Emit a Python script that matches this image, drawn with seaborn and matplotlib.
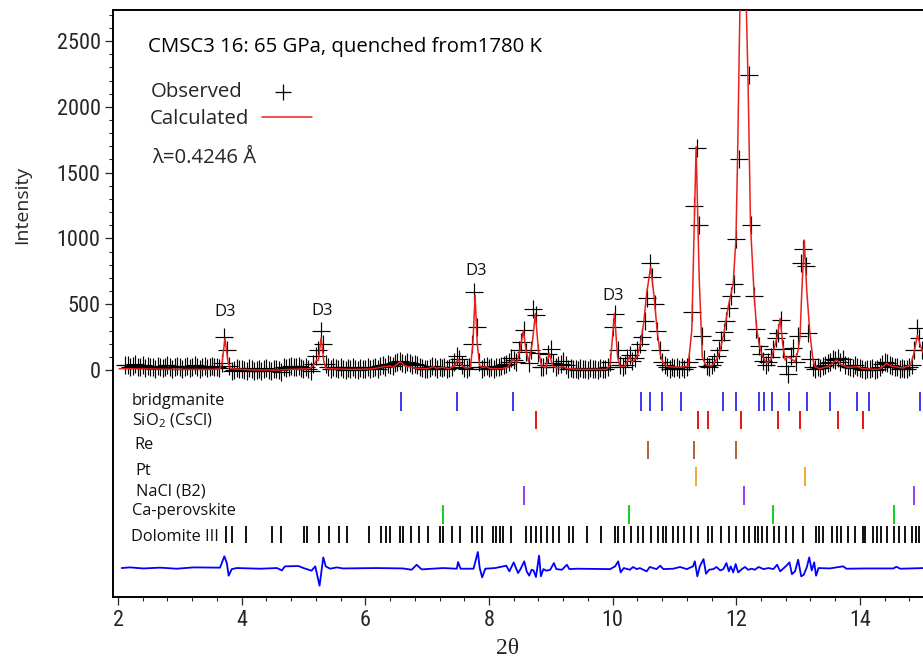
import numpy as np
import pandas as pd
import matplotlib
matplotlib.use("Agg")
import matplotlib.pyplot as plt
import seaborn as sns
from matplotlib.lines import Line2D
from matplotlib.ticker import FixedLocator
from matplotlib import font_manager

# ---------------- data ----------------
obs_start = 2.12          # first observed 2theta
obs_step = 0.04           # 2theta sampling step of the observed points
obs_y = [
    35, 40, 20, 30, 45, 25, 20, 35, 15, 30, 25, 20, 10, 30, 25, 15, 20, 35, 25, 10, 20, 30,
    20, 10, 25, 30, 15, 20, 35, 20, 10, 25, 30, 15, 20, 30, 25, 20, 15, 50, 250, 155, 30, -10, 0, 15, 5,
    10, 0, -5, 15, 5, -10, 0, 10, -5, 5, 15, 0, -10, 5, 10, 0, -15, 20, 15, 25, 30, 20, 25, 30, 15,
    10, 20, 5, -5, 45, 105, 150, 295, 195, 45, 20, 10, 25, 15, 5, 20, 10, 0, 15, 5, 20, 10, 0, 15, 10,
    10, 20, 5, 15, 25, 10, 30, 35, 25, 45, 40, 30, 50, 60, 70, 55, 45, 60, 50, 35, 45, 40, 20, 15, 10,
    5, 15, 30, 20, 10, 25, 15, 20, 5, 15, 20, 60, 110, 80, 40, 15, 10, 20, 195, 590, 325, 60, 10, 25, 30,
    15, 20, 10, 25, 20, 30, 40, 45, 60, 95, 75, 60, 150, 215, 305, 140, 50, 150, 465, 420, 130, 20, 25, 40, 125,
    160, 55, 20, 35, 45, 70, 40, 10, 15, 5, 10, 0, 15, 5, 10, 0, 15, 5, 10, 0, 15, 5, 10, 20, 60,
    330, 425, 150, 40, 20, 40, 95, 115, 65, 95, 150, 200, 250, 370, 550, 815, 710, 500, 295, 150, 60, 35, 20, 10, 25,
    15, 20, 5, 25, 10, 20, 60, 440, 1250, 1690, 1100, 260, 80, 30, 25, 35, 60, 110, 150, 230, 290, 370, 470, 560, 650,
    995, 1600, 3300, 4200, 3200, 2240, 1100, 560, 310, 180, 120, 70, 40, 60, 100, 160, 240, 280, 380, 160, 30, -30, 110, 165, 60,
    255, 815, 920, 790, 285, 80, 20, 10, 25, 15, 30, 40, 55, 60, 85, 75, 90, 60, 85, 40, 30, 20, 15, 35, 25,
    15, 10, 0, 10, 5, 15, 0, 10, 20, 45, 60, 50, 35, 30, 25, 20, 10, 15, 5, 10, 20, 40, 150, 320, 240,
    150,
]

calc_x = [2.02, 2.5, 3.0, 3.5, 3.64, 3.68, 3.73, 3.78, 3.82, 4.2,
          4.6, 4.8, 5.1, 5.17, 5.21, 5.24, 5.285, 5.33, 5.37, 5.8,
          6.1, 6.3, 6.4, 6.45, 6.56, 6.65, 6.8, 7.0, 7.1, 7.15,
          7.25, 7.35, 7.44, 7.50, 7.57, 7.62, 7.70, 7.74, 7.775, 7.81,
          7.85, 7.90, 7.96, 8.02, 8.2, 8.3, 8.38, 8.45, 8.50, 8.555,
          8.60, 8.64, 8.70, 8.75, 8.80, 8.85, 8.92, 8.976, 9.03, 9.1,
          9.2, 9.26, 9.5, 9.9, 9.96, 10.03, 10.08, 10.12, 10.2, 10.27,
          10.30, 10.33, 10.40, 10.45, 10.50, 10.55, 10.615, 10.67, 10.72, 10.77,
          10.82, 10.90, 11.1, 11.22, 11.28, 11.35, 11.40, 11.45, 11.50, 11.6,
          11.68, 11.74, 11.80, 11.87, 11.95, 11.995, 12.02, 12.06, 12.10, 12.15,
          12.19, 12.23, 12.29, 12.33, 12.38, 12.43, 12.49, 12.56, 12.62, 12.66,
          12.71, 12.75, 12.79, 12.83, 12.87, 12.95, 13.00, 13.03, 13.06, 13.10,
          13.14, 13.19, 13.24, 13.27, 13.35, 13.5, 13.62, 13.7, 13.8, 13.95,
          14.05, 14.3, 14.38, 14.43, 14.5, 14.7, 14.82, 14.87, 14.93, 14.98,
          15.05]
calc_y = [10, 8, 5, 5, 8, 40, 240, 60, 10, 0,
          0, 5, 10, 40, 76, 70, 245, 60, 10, 5,
          8, 25, 30, 20, 63, 30, 15, 10, 25, 15,
          20, 10, 30, 81, 30, 15, 20, 200, 570, 200,
          30, 20, 25, 10, 10, 20, 81, 55, 150, 300,
          150, 63, 200, 430, 150, 30, 20, 127, 30, 15,
          25, 10, 5, 5, 40, 430, 100, 25, 30, 101,
          70, 60, 110, 200, 350, 580, 785, 560, 300, 120,
          50, 25, 20, 30, 300, 1697, 700, 100, 40, 30,
          80, 152, 280, 481, 658, 1000, 1596, 2800, 3600, 3000,
          2200, 1100, 557, 312, 170, 100, 51, 80, 180, 250,
          392, 200, 76, 100, 91, 63, 150, 253, 600, 988,
          600, 281, 80, 25, 10, 30, 76, 40, 20, 25,
          10, 5, 30, 51, 30, 15, 40, 120, 266, 180,
          100]

diff_x = [2.06, 2.19, 2.41, 2.68, 2.95, 3.22, 3.65, 3.72, 3.76, 3.79,
          3.84, 3.92, 4.30, 4.57, 4.65, 4.70, 4.92, 5.00, 5.13, 5.19,
          5.26, 5.32, 5.36, 5.43, 5.54, 5.64, 6.18, 6.61, 6.75, 6.83,
          6.91, 7.26, 7.48, 7.50, 7.54, 7.75, 7.82, 7.85, 7.89, 7.94,
          8.10, 8.28, 8.33, 8.40, 8.47, 8.51, 8.57, 8.61, 8.65, 8.69,
          8.72, 8.76, 8.81, 8.84, 8.88, 8.93, 8.99, 9.05, 9.09, 9.18,
          9.26, 9.30, 9.42, 9.96, 10.04, 10.09, 10.13, 10.18, 10.28, 10.33,
          10.39, 10.44, 10.55, 10.60, 10.71, 10.77, 10.82, 10.98, 11.09, 11.20,
          11.30, 11.33, 11.37, 11.41, 11.47, 11.51, 11.56, 11.63, 11.68, 11.74,
          11.79, 11.84, 11.88, 11.91, 11.95, 11.99, 12.03, 12.09, 12.14, 12.19,
          12.25, 12.30, 12.36, 12.44, 12.52, 12.60, 12.66, 12.71, 12.75, 12.81,
          12.86, 12.90, 12.95, 13.00, 13.05, 13.09, 13.14, 13.18, 13.22, 13.26,
          13.29, 13.33, 13.51, 13.73, 13.78, 14.11, 14.54, 14.59, 14.65, 15.05]
diff_y = [0, 5, -3, 3, -5, 5, 3, 89, 38, -58,
          -8, 0, -5, 0, -18, 13, 15, 0, -20, 13,
          -134, 81, 13, -5, 5, -3, 0, -3, -13, 25,
          -10, 0, -5, 46, -5, -5, 122, 0, -71, -5,
          0, 18, -25, 43, -38, -8, 51, -25, -58, -13,
          -18, -68, 94, -63, -8, -20, -13, 38, -8, -13,
          25, -8, -5, -8, 13, 51, -33, 0, -13, 8,
          -8, 0, -25, 8, -8, 18, -8, -5, 8, -8,
          13, 51, -63, 13, 68, -43, -13, -8, 8, -18,
          -8, 38, -25, 13, -33, 30, -33, -8, 8, -13,
          -5, -13, 8, -8, 0, -8, 25, -25, -8, 18,
          43, -46, -25, 63, -63, -51, 5, 81, -18, 43,
          -58, 0, -3, 13, -5, -3, -3, 10, -5, 0]

phase_names = ["bridgmanite", "SiO$_2$ (CsCl)", "Re", "Pt", "NaCl (B2)",
               "Ca-perovskite", "Dolomite III"]
bridgmanite_pos = [6.57, 7.49, 8.39, 10.46, 10.60, 10.80, 11.11, 11.78, 12.00,
                   12.36, 12.45, 12.58, 12.86, 13.14, 13.52, 13.96, 14.15, 14.97]
sio2_pos = [8.76, 11.38, 11.54, 12.08, 12.68, 13.03, 13.65, 14.05]
re_pos = [10.57, 11.31, 11.99]
pt_pos = [11.35, 13.11]
nacl_pos = [8.57, 12.13, 14.87]
caperov_pos = [7.26, 10.27, 12.59, 14.55]
dolomite_pos = [3.742, 3.839, 4.070, 4.496, 4.636, 5.003, 5.062, 5.251, 5.413, 5.579,
                5.704, 6.060, 6.249, 6.330, 6.404, 6.556, 6.614, 6.744, 6.873, 7.014,
                7.203, 7.261, 7.407, 7.531, 7.730, 7.811, 7.892, 8.065, 8.114, 8.173,
                8.222, 8.351, 8.599, 8.675, 8.756, 8.837, 8.934, 9.035, 9.133, 9.294,
                9.359, 9.580, 9.807, 10.038, 10.082, 10.179, 10.297, 10.405, 10.486, 10.620,
                10.738, 10.819, 10.863, 10.971, 11.052, 11.149, 11.262, 11.385, 11.547, 11.612,
                11.748, 11.877, 11.990, 12.129, 12.200, 12.302, 12.346, 12.411, 12.492, 12.610,
                12.695, 12.804, 12.922, 13.084, 13.289, 13.343, 13.407, 13.543, 13.624, 13.693,
                13.811, 13.920, 14.044, 14.077, 14.206, 14.271, 14.340, 14.433, 14.551, 14.636,
                14.729, 14.837, 14.906, 14.960]

peak_labels = ["D3", "D3", "D3", "D3"]

# ---------------- style ----------------
sns.set_style("white")


def pick(fams):
    for f in fams:
        try:
            font_manager.findfont(f, fallback_to_default=False)
            return f
        except Exception:
            pass
    return "DejaVu Sans"


TXT = pick(["Open Sans", "Noto Sans", "Lato"])
TICKF = pick(["Liberation Sans Narrow", "Roboto Condensed", "DejaVu Sans"])
SERIF = pick(["Liberation Serif", "DejaVu Serif"])
plt.rcParams["font.family"] = [TXT, "DejaVu Sans"]
plt.rcParams["mathtext.fontset"] = "custom"
plt.rcParams["mathtext.rm"] = TXT
plt.rcParams["mathtext.default"] = "rm"

W, H = 923, 663
fig = plt.figure(figsize=(W / 100, H / 100), dpi=100)


def fx(px):
    return px / W


def fy(py):
    return 1 - py / H


ax = fig.add_axes([fx(113), fy(597), (930 - 113) / W, (597 - 10) / H])
ax.set_xlim(1.919, 15.133)
ax.set_ylim(-1725, 2736)

# observed / calculated / difference
obs_x = np.round(obs_start + obs_step * np.arange(len(obs_y)), 3)
obs_df = pd.DataFrame({"x": obs_x, "y": obs_y})
calc_df = pd.DataFrame({"x": calc_x, "y": calc_y})
diff_df = pd.DataFrame({"x": diff_x, "y": np.array(diff_y) - 1505})

sns.scatterplot(data=obs_df, x="x", y="y", marker="+", s=150, color="black",
                linewidth=0.85, ax=ax, legend=False, zorder=2)
sns.lineplot(data=calc_df, x="x", y="y", sort=False, estimator=None,
             color="#e8201e", linewidth=1.1, ax=ax, zorder=3)
sns.lineplot(data=diff_df, x="x", y="y", sort=False, estimator=None,
             color="#0000ff", linewidth=1.3, ax=ax, zorder=3)

# reflection tick rows
rows = [
    (bridgmanite_pos, -167, -312, "#3a3af0"),
    (sio2_pos, -312, -448, "#f01010"),
    (re_pos, -540, -676, "#a8653c"),
    (pt_pos, -737, -881, "#f5a634"),
    (nacl_pos, -881, -1026, "#9b3bef"),
    (caperov_pos, -1026, -1170, "#10d020"),
    (dolomite_pos, -1185, -1315, "#111111"),
]
for pos, y0, y1, c in rows:
    ax.vlines(pos, y1, y0, colors=c, linewidth=1.4, zorder=3)

# phase labels (pixel positions: left x, baseline y)
label_px = [(132, 405), (132, 425), (134, 449), (135, 475), (136, 495), (132, 515), (131, 541)]
for name, (px, py) in zip(phase_names, label_px):
    fig.text(fx(px), fy(py), name, fontsize=11.8, ha="left", va="baseline", color="#111111")

# D3 labels
for lab, (lx, ly) in zip(peak_labels, [(3.73, 441), (5.30, 448), (7.79, 752), (10.01, 562)]):
    ax.text(lx, ly, lab, fontsize=12, ha="center", va="center", color="#111111")

# header annotation
fig.text(fx(148), fy(52), "CMSC3 16: 65 GPa, quenched from1780 K", fontsize=14.7,
         ha="left", va="baseline", color="black")
fig.text(fx(151), fy(97), "Observed", fontsize=14.7, ha="left", va="baseline")
fig.text(fx(150), fy(124), "Calculated", fontsize=14.7, ha="left", va="baseline")
fig.text(fx(152), fy(163), "\u03bb=0.4246 \u00c5", fontsize=14.7, ha="left", va="baseline")
fig.add_artist(Line2D([fx(283)], [fy(92)], marker="+", markersize=11, mew=0.9,
                      color="black", transform=fig.transFigure))
fig.add_artist(Line2D([fx(262), fx(312)], [fy(117), fy(117)], color="#e8201e",
                      linewidth=1.1, transform=fig.transFigure))

# axes styling
for side in ["left", "bottom", "top"]:
    ax.spines[side].set_linewidth(1.4)
    ax.spines[side].set_color("black")
ax.spines["right"].set_visible(False)

ax.xaxis.set_major_locator(FixedLocator([2, 4, 6, 8, 10, 12, 14]))
ax.xaxis.set_minor_locator(FixedLocator(np.round(np.arange(2.4, 15.0, 0.4), 2)))
ax.yaxis.set_major_locator(FixedLocator([0, 500, 1000, 1500, 2000, 2500]))
ax.yaxis.set_minor_locator(FixedLocator([v for v in range(100, 2701, 100) if v % 500]))
ax.tick_params(which="major", direction="out", length=5.5, width=0.9, labelsize=16,
               pad=3.5, bottom=True, left=True, top=False, right=False)
ax.tick_params(which="minor", direction="out", length=3, width=0.8,
               bottom=True, left=True, top=False, right=False)
for lab in ax.get_xticklabels() + ax.get_yticklabels():
    lab.set_fontfamily(TICKF)
ax.set_xlabel("")
ax.set_ylabel("")
fig.text(fx(22), fy(205), "Intensity", rotation=90, fontsize=14, ha="center", va="center")
fig.text(fx(508), fy(648), "2\u03b8", fontsize=17, ha="center", va="center", fontfamily=SERIF)

fig.savefig("out.png", dpi=100)
